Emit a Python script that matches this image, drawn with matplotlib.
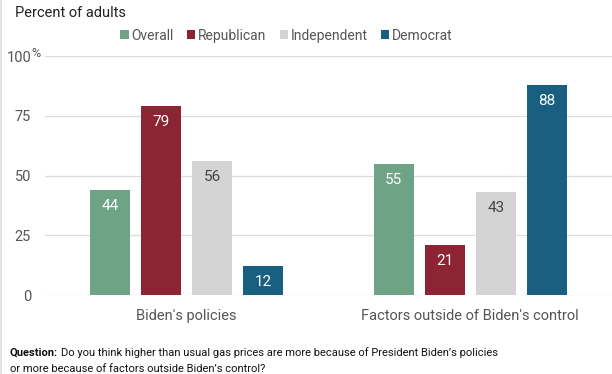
import numpy as np
import matplotlib.pyplot as plt

plt.rcParams['font.family'] = ['Roboto', 'DejaVu Sans']

# DATA
categories = ["Biden's policies", "Factors outside of Biden's control"]
series = ['Overall', 'Republican', 'Independent', 'Democrat']
values = {
    'Overall': [44, 55],
    'Republican': [79, 21],
    'Independent': [56, 43],
    'Democrat': [12, 88],
}
colors = {
    'Overall': '#6ea385',
    'Republican': '#8c2433',
    'Independent': '#d4d4d4',
    'Democrat': '#185f80',
}
label_colors = {
    'Overall': 'white',
    'Republican': 'white',
    'Independent': '#444444',
    'Democrat': 'white',
}

fig = plt.figure(figsize=(6.12, 3.74), dpi=100)
ax = fig.add_axes([0.0735, 0.211, 0.9265, 0.639])

x = np.arange(len(categories))
width = 0.142
step = 0.18
offsets = (np.arange(len(series)) - 1.5) * step

for i, s in enumerate(series):
    bars = ax.bar(x + offsets[i], values[s], width=width, color=colors[s], label=s, zorder=3)
    for b, v in zip(bars, values[s]):
        ax.text(b.get_x() + b.get_width() / 2, v - 3.8, str(v), ha='center', va='top',
                color=label_colors[s], fontsize=11, zorder=4)

ax.set_xlim(-0.5, 1.5)
ax.set_ylim(0, 100)
ax.set_yticks([0, 25, 50, 75, 100])
ax.set_yticklabels(['0', '25', '50', '75', '100'])
ax.set_xticks(x)
ax.set_xticklabels(categories)
ax.tick_params(axis='both', length=0, labelsize=10.5, labelcolor='#555555')
ax.tick_params(axis='x', pad=10)
ax.tick_params(axis='y', pad=10)
ax.grid(axis='y', color='#dddddd', linewidth=0.9, zorder=0)
for sp in ax.spines.values():
    sp.set_visible(False)
fig.text(0.051, 0.856, '%', fontsize=9, color='#555555', ha='left', va='center')

fig.text(0.025, 0.985, 'Percent of adults', fontsize=10.5, color='#222222', va='top')
fig.legend(loc='center', bbox_to_anchor=(0.468, 0.905), ncol=4, frameon=False,
           fontsize=10, handlelength=0.6, handleheight=0.6, handletextpad=0.2,
           columnspacing=0.95, labelcolor='#555555')

q1 = fig.text(0.016, 0.048, 'Question:', fontsize=8, color='#111111', fontweight='bold')
fig.canvas.draw()
bb = q1.get_window_extent().transformed(fig.transFigure.inverted())
fig.text(bb.x1 + 0.005, 0.048,
         'Do you think higher than usual gas prices are more because of President Biden\u2019s policies',
         fontsize=8, color='#111111')
fig.text(0.016, 0.006, 'or more because of factors outside Biden\u2019s control?', fontsize=8, color='#111111')

fig.add_artist(plt.Line2D([0.002, 0.002], [0, 1], color='#dddddd', linewidth=1.2))

fig.savefig('out.png', dpi=100)
